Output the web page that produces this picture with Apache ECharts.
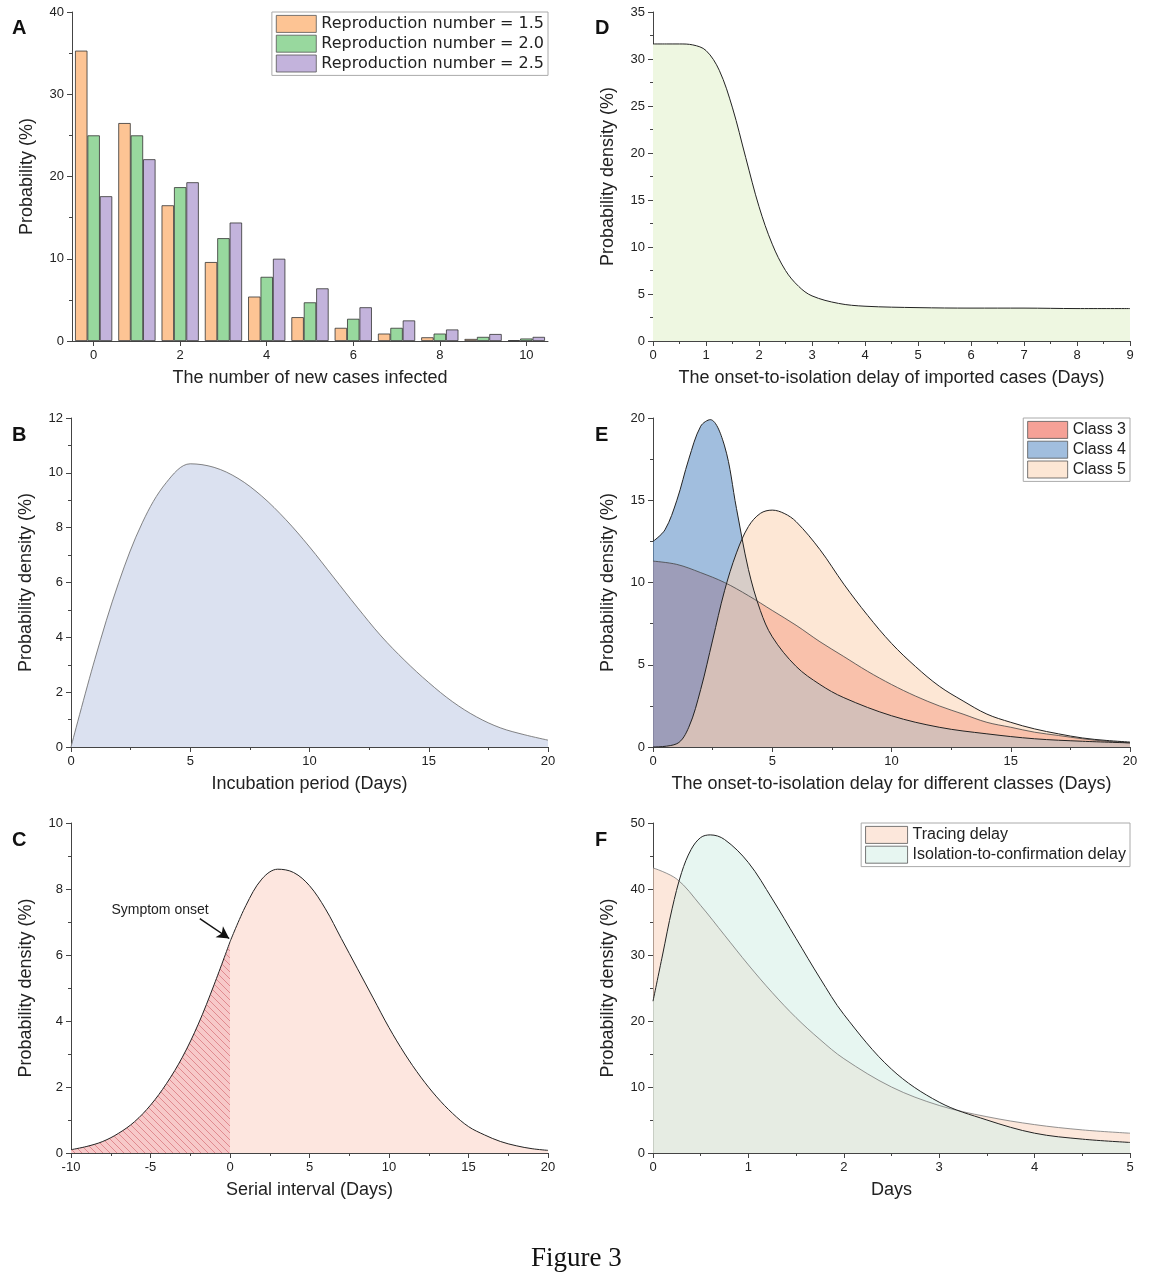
<!DOCTYPE html>
<html><head><meta charset="utf-8">
<script src="https://cdn.jsdelivr.net/npm/echarts@6/dist/echarts.min.js"></script>
<style>html,body{margin:0;background:#fff}#c{width:1163px;height:1280px}</style>
</head><body><div id="c"></div>
<script>
// Panel A
const catsA = ['0','1','2','3','4','5','6','7','8','9','10'];
const r15 = [35.3,26.5,16.5,9.6,5.4,2.9,1.6,0.9,0.45,0.25,0.1];
const r20 = [25,25,18.7,12.5,7.8,4.7,2.7,1.6,0.9,0.5,0.3];
const r25 = [17.6,22.1,19.3,14.4,10,6.4,4.1,2.5,1.4,0.85,0.5];
// Panel B
const bX = [0,1,2,3,4,5,6,7,8,9,10,11,12,13,14,15,16,17,18,19,20];
const bY = [0,3.2,6.0,8.2,9.65,10.33,10.2,9.8,9.15,8.3,7.3,6.2,5.1,4.05,3.15,2.35,1.65,1.1,0.7,0.45,0.25];
// Panel C
const cX = [-10,-9,-8,-7,-6,-5,-4,-3,-2,-1,0,1,2,3,4,5,6,7,8,9,10,11,12,13,14,15,16,17,18,19,20];
const cY = [0.1,0.2,0.35,0.6,0.95,1.45,2.1,2.9,3.9,5.1,6.4,7.5,8.3,8.6,8.5,8.1,7.4,6.5,5.6,4.7,3.8,3.0,2.3,1.7,1.2,0.8,0.55,0.35,0.22,0.13,0.08];
// Panel D
const dX = [0,0.25,0.5,0.75,1,1.25,1.5,1.75,2,2.25,2.5,2.75,3,3.5,4,5,6,7,8,9];
const dY = [31.6,31.6,31.6,31.5,30.9,28.8,24.8,19.5,14.3,10.3,7.5,5.8,4.8,4.0,3.7,3.55,3.5,3.5,3.45,3.45];
// Panel E
const e3X = [0,1,2,3,4,5,6,7,8,9,10,11,12,13,14,15,16,17,18,19,20];
const e3Y = [11.3,11.1,10.6,10.0,9.2,8.3,7.4,6.4,5.5,4.6,3.8,3.1,2.5,2.0,1.5,1.2,0.9,0.7,0.5,0.35,0.25];
const e4X = [0,0.5,1,1.5,2,2.4,3,3.5,4,4.5,5,6,7,8,10,12,14,16,18,20];
const e4Y = [12.5,13.2,15.0,17.5,19.5,19.9,18.3,14.5,10.8,8.3,6.7,4.9,3.8,3.0,1.9,1.2,0.8,0.5,0.35,0.25];
const e5X = [0,1,1.5,2,2.5,3,3.5,4,4.5,5,5.5,6,7,8,9,10,11,12,13,14,15,16,17,18,19,20];
const e5Y = [0,0.2,1.2,3.5,6.5,9.5,11.8,13.4,14.2,14.4,14.2,13.7,12.0,9.9,8.0,6.3,4.9,3.7,2.8,2.0,1.5,1.1,0.8,0.55,0.4,0.3];
// Panel F
const fTX = [0,0.25,0.5,0.75,1,1.25,1.5,1.75,2,2.5,3,3.5,4,4.5,5];
const fTY = [43.2,41.5,37.5,33,28.5,24.3,20.5,17.2,14.3,10,7.2,5.5,4.3,3.5,3.0];
const fIX = [0,0.1,0.2,0.3,0.4,0.5,0.6,0.75,1,1.25,1.5,1.75,2,2.5,3,3.5,4,4.5,5];
const fIY = [23,30,37,42.5,46,47.8,48.2,47.5,44,38.5,32.5,26.5,21,12.7,7.7,5.0,3.0,2.1,1.6];

const zip = (xs, ys) => xs.map((x, i) => [x, ys[i]]);
const FONT = 'Liberation Sans';
const chart = echarts.init(document.getElementById('c'));

const hatch = document.createElement('canvas');
hatch.width = 7; hatch.height = 7;
(function(){const g = hatch.getContext('2d');
g.fillStyle='#f7c9c9';g.fillRect(0,0,7,7);
g.strokeStyle='#d97a80';g.lineWidth=0.8;g.beginPath();
g.moveTo(0,0);g.lineTo(7,7);g.moveTo(-1,6);g.lineTo(1,8);g.moveTo(6,-1);g.lineTo(8,1);g.stroke();})();

const grids = [
  {left:72, top:12, width:476, height:329},
  {left:71, top:418, width:477, height:329},
  {left:71, top:823, width:477, height:330},
  {left:653, top:12, width:477, height:329},
  {left:653, top:418, width:477, height:329},
  {left:653, top:823, width:477, height:330}
];
const axLine = {show:true, onZero:false, lineStyle:{color:'#444', width:1}};
const tick = {show:true, inside:false, length:5, lineStyle:{color:'#444'}};
const minor = {show:true, splitNumber:2, length:3, lineStyle:{color:'#444'}};
const lab = {color:'#222', fontSize:13, fontFamily:FONT};
const nameStyle = {color:'#222', fontSize:18, fontFamily:FONT};
function xv(i, min, max, interval, name){
  return {type:'value', gridIndex:i, min, max, interval, name, nameLocation:'middle', nameGap:28,
    nameTextStyle:nameStyle, axisLine:axLine, axisTick:tick, minorTick:minor, axisLabel:lab, splitLine:{show:false}};
}
function yv(i, min, max, interval, name){
  return {type:'value', gridIndex:i, min, max, interval, name, nameLocation:'middle', nameGap:36,
    nameTextStyle:nameStyle, axisLine:axLine, axisTick:tick, minorTick:minor, axisLabel:lab, splitLine:{show:false}};
}
const xAxes = [
  {type:'category', gridIndex:0, data:catsA, name:'The number of new cases infected', nameLocation:'middle', nameGap:28,
   nameTextStyle:nameStyle, axisLine:axLine, axisTick:{show:true, length:5, alignWithLabel:true, interval:1, lineStyle:{color:'#444'}},
   axisLabel:Object.assign({interval:1}, lab)},
  xv(1,0,20,5,'Incubation period (Days)'),
  xv(2,-10,20,5,'Serial interval (Days)'),
  xv(3,0,9,1,'The onset-to-isolation delay of imported cases (Days)'),
  xv(4,0,20,5,'The onset-to-isolation delay for different classes (Days)'),
  xv(5,0,5,1,'Days')
];
const yAxes = [
  yv(0,0,40,10,'Probability (%)'),
  yv(1,0,12,2,'Probability density (%)'),
  yv(2,0,10,2,'Probability density (%)'),
  yv(3,0,35,5,'Probability density (%)'),
  yv(4,0,20,5,'Probability density (%)'),
  yv(5,0,50,10,'Probability density (%)')
];
const bar = (name, data, color) => ({type:'bar', name, data, xAxisIndex:0, yAxisIndex:0, barGap:'0%', barCategoryGap:'14%',
  itemStyle:{color, borderColor:'#333', borderWidth:0.8}});
const area = (name, i, data, fill, extra) => Object.assign({type:'line', name, xAxisIndex:i, yAxisIndex:i, data, smooth:0.35,
  showSymbol:false, symbol:'none', lineStyle:{color:'#222', width:1}, areaStyle:{color:fill, opacity:1}, itemStyle:{color:fill}}, extra||{});

const cLeft = zip(cX, cY).filter(p => p[0] <= 0);
const cRight = zip(cX, cY).filter(p => p[0] >= 0);

const legBase = {orient:'vertical', borderColor:'#aaa', borderWidth:1, backgroundColor:'#fff', padding:[3,4,3,4],
  itemGap:2, itemHeight:17, textStyle:{fontSize:16, fontFamily:FONT, color:'#222'}, icon:'rect', itemStyle:{borderColor:'#555', borderWidth:0.8}};

chart.setOption({
  animation:false,
  grid:grids, xAxis:xAxes, yAxis:yAxes,
  legend:[
    Object.assign({}, legBase, {data:['Reproduction number = 1.5','Reproduction number = 2.0','Reproduction number = 2.5'], right:615, top:12, itemWidth:40,
      textStyle:{fontSize:16, fontFamily:'DejaVu Sans', color:'#222'}}),
    Object.assign({}, legBase, {data:['Class 3','Class 4','Class 5'], right:33, top:418, itemWidth:40}),
    Object.assign({}, legBase, {data:['Tracing delay','Isolation-to-confirmation delay'], right:33, top:823, itemWidth:42})
  ],
  series:[
    bar('Reproduction number = 1.5', r15, '#fdc494'),
    bar('Reproduction number = 2.0', r20, '#98d89e'),
    bar('Reproduction number = 2.5', r25, '#c3b3dc'),
    area('B', 1, zip(bX, bY), '#dbe1f0', {lineStyle:{color:'#666', width:0.8}}),
    area('Cl', 2, cLeft, {image:hatch, repeat:'repeat'}, {}),
    area('Cr', 2, cRight, '#fde6df', {
      markLine:{silent:true, symbol:['none','arrow'], symbolSize:[10,12], label:{show:false},
        lineStyle:{color:'#111', width:1.5, type:'solid'},
        data:[[{coord:[-1.9,7.1]},{coord:[-0.05,6.5]}]]},
      markPoint:{silent:true, symbol:'circle', symbolSize:1, itemStyle:{color:'transparent'},
        label:{show:true, formatter:'Symptom onset', color:'#222', fontSize:14, fontFamily:FONT},
        data:[{coord:[-4.4,7.37]}]}
    }),
    area('D', 3, zip(dX, dY), '#eef7e1'),
    area('Class 3', 4, zip(e3X, e3Y), 'rgba(240,110,95,0.65)', {lineStyle:{color:'#444', width:0.8}}),
    area('Class 4', 4, zip(e4X, e4Y), 'rgba(110,155,205,0.65)'),
    area('Class 5', 4, zip(e5X, e5Y), 'rgba(252,215,185,0.6)'),
    area('Tracing delay', 5, zip(fTX, fTY), 'rgba(250,215,195,0.6)', {lineStyle:{color:'#777', width:0.8}}),
    area('Isolation-to-confirmation delay', 5, zip(fIX, fIY), 'rgba(215,240,232,0.6)')
  ],
  graphic:[
    {type:'text', left:12, top:18, style:{text:'A', font:'bold 20px '+FONT, fill:'#111'}},
    {type:'text', left:12, top:425, style:{text:'B', font:'bold 20px '+FONT, fill:'#111'}},
    {type:'text', left:12, top:830, style:{text:'C', font:'bold 20px '+FONT, fill:'#111'}},
    {type:'text', left:595, top:18, style:{text:'D', font:'bold 20px '+FONT, fill:'#111'}},
    {type:'text', left:595, top:425, style:{text:'E', font:'bold 20px '+FONT, fill:'#111'}},
    {type:'text', left:595, top:830, style:{text:'F', font:'bold 20px '+FONT, fill:'#111'}},
    {type:'text', left:531, top:1245, style:{text:'Figure 3', font:'27px Liberation Serif', fill:'#111'}}
  ]
});
</script></body></html>
